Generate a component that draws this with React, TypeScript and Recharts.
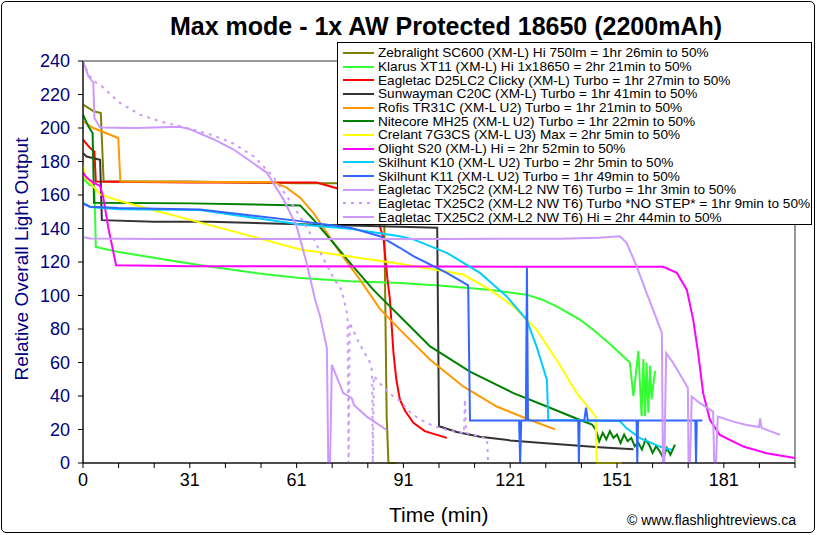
import { Line, LineChart, ReferenceArea, XAxis, YAxis } from "recharts";

// [minutes, relative output]
const zebralight = [[0, 214], [1.5, 212], [3, 210], [5, 209], [5.8, 168], [30, 168], [60, 167], [84.5, 167], [85, 80], [85.3, 28], [85.8, 0], [88, 0]];
const klarus = [[0, 170], [1.8, 166], [3.2, 165], [3.6, 129], [10, 126], [21.6, 122], [33, 118], [50, 113], [61, 110.5], [75, 108.5], [89, 107.5], [100, 106], [114, 103.5], [124.6, 100.5], [129, 97.5], [133, 93.5], [139.6, 85.6], [143.3, 79.6], [148, 71], [153.6, 60], [154.6, 40], [156, 67], [156.9, 28], [157.4, 62], [157.9, 28], [158.3, 60], [158.8, 30], [159.3, 58], [159.7, 38], [160.7, 55]];
const eagletacD25 = [[0, 193], [2, 188], [3.2, 186], [3.6, 168], [30, 167.5], [65.6, 167.4], [71.3, 164], [76, 159], [80, 153], [82.5, 148], [84.4, 134], [85.5, 110], [86.2, 98], [87.2, 66], [88, 50], [89, 38], [90.5, 31], [92.8, 24], [96, 19], [102.2, 15]];
const sunwayman = [[0, 185], [1, 183], [4.8, 181], [5.3, 145], [20, 144], [35.7, 144], [61, 142.5], [89, 141], [99.5, 140.4], [100, 22], [105, 18.5], [111.5, 15.7], [120, 13.5], [130, 11.8], [145, 9.4], [154.6, 8.2]];
const rofis = [[0, 204], [2.9, 200], [9.9, 194], [10.5, 168], [30, 167.7], [53.5, 167.7], [57.2, 164.4], [61, 158.4], [64.7, 149.4], [68.5, 137.5], [72.2, 125.5], [77.8, 109.5], [83.4, 92], [89, 79.6], [97.5, 61.6], [106.8, 45.7], [116.2, 33.7], [125.6, 25.7], [132.6, 20.1]];
const nitecore = [[0, 208], [1.5, 201], [2.7, 197], [3.1, 155.4], [30, 155], [61, 153.8], [64.7, 145.4], [70.3, 131.5], [75, 119.5], [81.5, 103.5], [89, 87.6], [97.5, 69.6], [108.7, 54.6], [120.9, 41.7], [130.3, 33.7], [139.6, 25.7], [143, 23], [144, 20], [145, 13], [146, 18], [147, 14], [148, 19], [149, 15], [150, 17], [151, 12], [152, 17], [153, 13], [154, 15], [155, 10], [156, 12], [157, 8], [158, 14], [159, 11], [160, 6], [161, 10], [162, 7], [163, 3], [164, 9], [165, 5], [166.3, 11]];
const crelant = [[0, 178], [0.6, 170.4], [2, 167.4], [4.8, 160.4], [10.4, 156.4], [22.6, 149.4], [35.7, 142], [61, 127.5], [89, 119], [106.8, 112.5], [114.3, 103.5], [120.9, 93.5], [127.4, 79.6], [133, 61.6], [138.7, 41.7], [143.3, 29.7], [144, 27.7], [144.3, 0], [151.3, 0]];
const olight = [[0, 173.4], [1, 170.4], [2.9, 167.4], [4.8, 165.4], [5.7, 158.4], [7.1, 140.5], [9.3, 118], [30, 117.5], [100, 117.3], [163, 117.1], [166.8, 113.5], [169.6, 103.5], [171.4, 85.6], [172.8, 65.6], [174.2, 41.7], [176.1, 25.7], [178.9, 16.8], [185.5, 9.8], [192, 5.8], [200, 3]];
const skilhuntK10 = [[0, 155.4], [2, 152.8], [10, 151.5], [32.9, 151], [61, 142.4], [75, 139.9], [89, 135.4], [92.8, 133.5], [102.2, 125.5], [111.5, 113.5], [119, 99.5], [124.6, 85.6], [127.4, 69.6], [130.3, 49.7], [130.7, 25.7], [150.8, 25.1], [152.7, 20.7], [156.5, 14.8], [162, 9.8], [165.4, 7.8]];
const skilhuntK11 = [[0, 154.8], [2, 153], [10, 152.2], [32.9, 151.4], [61, 144.4], [75, 140.5], [83.4, 135.4], [89, 128.5], [92.8, 123.5], [102.2, 113.5], [108.2, 106], [108.7, 25.3], [122.5, 25.3], [122.8, 0], [123.1, 25.3], [124.4, 25.3], [124.7, 116.5], [125, 25.3], [139.1, 25.3], [139.3, 0], [139.5, 25.3], [140.8, 25.3], [141.3, 33], [141.8, 25.3], [155.5, 25.3], [155.7, 0], [155.9, 25.3], [172, 25.3], [172.2, 0], [172.4, 25.3], [174, 25.3]];
const tx25Turbo = [[0, 240], [1.5, 231], [2.9, 227], [3.2, 206], [4.8, 200.3], [15, 200], [27.2, 200.7], [30, 199.3], [36.6, 193.3], [42.2, 187.3], [51.6, 173.4], [56.3, 157.4], [60, 141.4], [62.8, 119.5], [65.2, 97.5], [66.6, 87.6], [68.5, 68.6], [68.9, 0], [69.4, 0], [69.9, 58.6], [73.1, 41.7], [75.5, 38.7], [76.1, 34.7], [79.7, 27.7], [85.3, 19.7]];
const tx25NoStep = [[0, 240], [1.5, 232], [3, 228], [5.2, 225], [10.4, 215], [16, 208], [21.6, 204], [27.2, 201], [31, 199], [36, 196], [42, 191], [48, 183], [53, 172], [57, 160], [61, 147], [65, 133], [68, 120], [70.5, 110], [72.7, 103], [74.3, 88], [74.6, 0], [74.9, 84], [77, 74], [79, 66], [80.6, 60], [81.2, 55], [81.4, 0], [81.7, 52], [84, 46], [87, 40], [89, 37], [92, 30], [94.7, 26], [98, 22.5], [102.2, 19.7], [107, 17.8], [107.3, 38], [107.6, 18], [111, 16], [113.5, 14.5], [113.8, 0]];
const tx25Hi = [[0, 135], [2, 134], [20, 133.8], [61, 133.8], [100, 133.8], [134, 133.9], [145, 134.5], [150.8, 135.4], [152.7, 131.5], [155.5, 117.5], [158.3, 101.6], [161.2, 85.6], [162.6, 77.6], [162.9, 0], [163.3, 0], [163.8, 65.6], [165.8, 59.7], [168.6, 49.7], [169.9, 44.7], [170.1, 0], [170.5, 0], [171, 39.7], [173.3, 35.7], [177, 30.7], [177.3, 0], [177.8, 0], [178.3, 27.7], [182.7, 24.7], [186.4, 22.7], [189.9, 21.5], [190.2, 26.7], [190.6, 21], [195.8, 16.8]];

const xTicks = [0, 10, 20, 30, 40, 50, 60, 70, 80, 90, 100, 110, 120, 130, 140, 150, 160, 170, 180, 190, 200];
const xTickLabels: Record<number, string> = { 0: "0", 30: "31", 60: "61", 90: "91", 120: "121", 150: "151", 180: "181" };
const yTicks = [0, 20, 40, 60, 80, 100, 120, 140, 160, 180, 200, 220, 240];

const series = [
  { name: "Zebralight SC600 (XM-L) Hi 750lm = 1hr 26min to 50%", data: zebralight, color: "#808000" },
  { name: "Klarus XT11 (XM-L) Hi 1x18650 = 2hr 21min to 50%", data: klarus, color: "#33ff33" },
  { name: "Eagletac D25LC2 Clicky (XM-L) Turbo = 1hr 27min to 50%", data: eagletacD25, color: "#ff0000" },
  { name: "Sunwayman C20C (XM-L) Turbo = 1hr 41min to 50%", data: sunwayman, color: "#333333" },
  { name: "Rofis TR31C (XM-L U2) Turbo = 1hr 21min to 50%", data: rofis, color: "#ff9900" },
  { name: "Nitecore MH25 (XM-L U2) Turbo = 1hr 22min to 50%", data: nitecore, color: "#008000" },
  { name: "Crelant 7G3CS (XM-L U3) Max = 2hr 5min to 50%", data: crelant, color: "#ffff00" },
  { name: "Olight S20 (XM-L) Hi = 2hr 52min to 50%", data: olight, color: "#ff00ff" },
  { name: "Skilhunt K10 (XM-L U2) Turbo = 2hr 5min to 50%", data: skilhuntK10, color: "#00ccff" },
  { name: "Skilhunt K11 (XM-L U2) Turbo = 1hr 49min to 50%", data: skilhuntK11, color: "#3366ff" },
  { name: "Eagletac TX25C2 (XM-L2 NW T6) Turbo = 1hr 3min to 50%", data: tx25Turbo, color: "#cc99ff" },
  { name: "Eagletac TX25C2 (XM-L2 NW T6) Turbo *NO STEP* = 1hr 9min to 50%", data: tx25NoStep, color: "#cc99ff", dash: "3 5" },
  { name: "Eagletac TX25C2 (XM-L2 NW T6) Hi = 2hr 44min to 50%", data: tx25Hi, color: "#cc99ff" },
];

const FONT = "'Liberation Sans', Arial, sans-serif";

function toRows(pairs: number[][]) {
  return pairs.map(([t, v]) => ({ t, v }));
}

function ChartLegend() {
  return (
    <div
      style={{
        position: "absolute",
        left: 337,
        top: 42,
        width: 475,
        height: 183,
        boxSizing: "border-box",
        border: "1px solid #000",
        background: "#fff",
        padding: "3px 0 0 5px",
        fontFamily: FONT,
        fontSize: 13.6,
        color: "#000",
      }}
    >
      {series.map((s) => (
        <div key={s.name} style={{ display: "flex", alignItems: "center", height: 13.7, whiteSpace: "nowrap" }}>
          <svg width={32} height={6} style={{ marginRight: 3 }}>
            <line x1={0} y1={3} x2={31} y2={3} stroke={s.color} strokeWidth={2} strokeDasharray={s.dash} />
          </svg>
          <span>{s.name}</span>
        </div>
      ))}
    </div>
  );
}

export default function App() {
  return (
    <div style={{ position: "absolute", left: 0, top: 0, width: 817, height: 535, background: "#fff", fontFamily: FONT }}>
      <div
        style={{
          position: "absolute",
          left: 1,
          top: 1,
          width: 814,
          height: 532,
          boxSizing: "border-box",
          border: "1px solid #000",
          borderRadius: 5,
        }}
      />
      <div style={{ position: "absolute", left: 0, width: 892, top: 12, textAlign: "center", fontSize: 25, fontWeight: "bold" }}>
        Max mode - 1x AW Protected 18650 (2200mAh)
      </div>
      <LineChart width={817} height={535} margin={{ top: 61, right: 22, bottom: 42, left: 23 }}>
        <XAxis
          dataKey="t"
          type="number"
          domain={[0, 200]}
          ticks={xTicks}
          tickFormatter={(v) => xTickLabels[v as number] ?? ""}
          allowDataOverflow
          stroke="#000"
          tickSize={5}
          tickMargin={5}
          height={30}
          tick={{ fill: "#000", fontSize: 18, fontFamily: FONT }}
          interval={0}
        />
        <YAxis
          type="number"
          domain={[0, 240]}
          ticks={yTicks}
          width={60}
          stroke="#000"
          tickSize={5}
          tickMargin={8}
          tick={{ fill: "#000080", fontSize: 18, fontFamily: FONT }}
          interval={0}
        />
        <ReferenceArea x1={0} x2={200} y1={0} y2={240} fill="none" stroke="#333" strokeWidth={1} />
        {series.map((s) => (
          <Line
            key={s.name}
            data={toRows(s.data)}
            dataKey="v"
            type="linear"
            stroke={s.color}
            strokeWidth={2}
            strokeDasharray={s.dash}
            dot={false}
            activeDot={false}
            isAnimationActive={false}
          />
        ))}
      </LineChart>
      <ChartLegend />
      <div
        style={{
          position: "absolute",
          left: 22,
          top: 259,
          transform: "translate(-50%, -50%) rotate(-90deg)",
          whiteSpace: "nowrap",
          fontSize: 19,
          color: "#000080",
        }}
      >
        Relative Overall Light Output
      </div>
      <div style={{ position: "absolute", left: 389, top: 503, fontSize: 21, color: "#000" }}>Time (min)</div>
      <div style={{ position: "absolute", left: 627, top: 512, fontSize: 14, color: "#000" }}>© www.flashlightreviews.ca</div>
    </div>
  );
}
